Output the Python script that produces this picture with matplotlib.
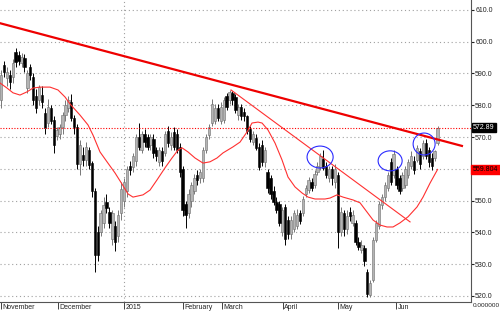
import matplotlib
matplotlib.use("Agg")
import matplotlib.pyplot as plt
import matplotlib.transforms as mtransforms
from matplotlib.patches import Ellipse
import numpy as np

plt.rcParams['font.family'] = ['Liberation Sans', 'DejaVu Sans']

# daily candles, Nov 2014 .. Jun 2015 (open, high, low, close)
opens = [581.6, 592.7, 588.5, 589.5, 588.9, 596.7, 595.8, 593.3, 594.9, 585.4,
         592.0, 588.9, 583.0, 581.6, 583.2, 577.5, 574.4, 579.0, 575.4, 570.3,
         571.0, 573.0, 576.9, 579.0, 581.0, 576.0, 573.0, 561.6, 564.4, 562.8,
         566.0, 561.8, 553.0, 540.0, 540.0, 543.0, 549.5, 546.4, 538.0, 542.0,
         539.0, 546.0, 550.0, 553.0, 561.0, 560.5, 562.5, 570.0, 566.0, 571.0,
         570.0, 567.5, 569.5, 566.0, 562.0, 565.5, 565.0, 572.0, 567.5, 571.5,
         571.0, 567.0, 560.0, 549.0, 546.0, 550.0, 553.0, 558.0, 557.0, 557.0,
         566.0, 570.6, 574.4, 575.0, 579.0, 575.0, 575.5, 583.0, 581.6, 584.0,
         582.5, 576.9, 579.5, 578.0, 576.5, 572.5, 568.5, 569.7, 567.0, 567.5,
         562.0, 559.0, 557.0, 553.0, 549.5, 549.0, 540.0, 548.0, 544.0, 539.5,
         541.0, 542.0, 546.0, 546.0, 552.0, 553.4, 556.0, 555.0, 559.0, 560.6,
         563.0, 561.0, 557.0, 560.0, 556.0, 558.0, 540.0, 546.0, 541.0, 546.5,
         543.0, 543.0, 537.0, 534.5, 535.0, 527.6, 520.3, 525.0, 537.6, 542.0,
         548.5, 551.0, 554.0, 562.0, 558.0, 560.0, 557.0, 554.0, 555.0, 558.0,
         561.0, 562.5, 562.8, 565.5, 564.0, 568.0, 566.0, 563.5, 563.5, 568.0]
highs = [591.0, 594.0, 592.0, 591.0, 594.5, 598.0, 597.0, 596.5, 596.0, 591.0,
         593.0, 590.0, 585.0, 586.5, 586.0, 579.0, 582.0, 580.0, 576.5, 573.0,
         574.0, 578.0, 581.5, 583.0, 583.5, 577.0, 574.0, 569.0, 567.0, 568.5,
         567.0, 562.5, 554.0, 542.0, 547.0, 551.0, 552.0, 548.0, 547.0, 543.5,
         547.0, 556.0, 557.0, 561.0, 562.5, 565.0, 571.0, 574.5, 572.0, 572.5,
         571.0, 571.0, 571.0, 567.0, 567.0, 567.0, 572.0, 573.5, 571.5, 573.0,
         572.5, 568.0, 561.0, 550.0, 553.5, 556.0, 558.5, 559.5, 560.0, 567.0,
         571.0, 574.0, 582.0, 580.5, 580.5, 581.0, 582.5, 584.0, 584.8, 584.5,
         583.5, 580.5, 580.5, 579.0, 577.0, 573.5, 572.0, 571.0, 568.0, 569.0,
         567.0, 560.0, 558.0, 554.5, 551.0, 550.0, 548.0, 549.0, 545.0, 545.0,
         547.0, 547.5, 547.0, 551.5, 555.0, 557.5, 557.0, 559.5, 562.0, 565.0,
         566.0, 562.0, 561.0, 561.0, 561.5, 559.0, 548.0, 547.0, 547.0, 548.0,
         547.0, 544.0, 538.5, 537.5, 536.0, 528.5, 525.0, 538.5, 544.0, 550.0,
         552.0, 556.0, 559.0, 563.5, 566.0, 561.0, 558.0, 559.0, 561.0, 563.0,
         565.5, 564.0, 567.5, 566.5, 569.0, 569.5, 567.0, 565.0, 566.0, 573.5]
lows = [579.0, 589.0, 586.0, 585.0, 587.0, 592.0, 592.5, 592.0, 590.5, 584.0,
        588.0, 580.0, 577.5, 580.0, 579.0, 571.0, 573.0, 574.0, 565.0, 569.0,
        569.5, 571.0, 575.0, 578.0, 575.0, 571.0, 560.0, 558.0, 561.0, 561.0,
        560.0, 551.0, 527.5, 531.0, 539.0, 541.5, 546.0, 541.5, 536.0, 534.0,
        537.0, 544.0, 548.0, 551.0, 558.0, 559.0, 561.0, 566.0, 565.0, 567.0,
        566.0, 566.0, 563.5, 562.5, 561.0, 561.0, 564.0, 567.0, 566.0, 566.0,
        565.0, 557.5, 545.0, 541.5, 544.5, 548.0, 552.0, 555.0, 555.5, 556.0,
        565.0, 569.5, 573.5, 574.0, 575.0, 574.0, 574.5, 578.5, 580.5, 580.0,
        577.5, 575.5, 575.5, 575.0, 571.0, 568.5, 567.5, 566.0, 559.5, 561.0,
        560.5, 552.5, 550.5, 548.5, 546.0, 542.0, 539.0, 536.0, 538.0, 538.0,
        540.0, 541.0, 542.5, 545.0, 551.0, 552.5, 553.0, 554.0, 558.0, 559.5,
        559.5, 557.0, 556.0, 555.0, 554.0, 535.0, 539.0, 539.0, 539.5, 543.5,
        542.0, 536.0, 534.5, 533.5, 529.5, 519.8, 519.8, 524.5, 537.0, 541.0,
        547.5, 550.0, 553.0, 555.0, 557.0, 553.5, 552.0, 553.0, 554.0, 557.0,
        560.0, 558.5, 562.0, 560.0, 563.0, 563.0, 560.5, 559.5, 562.5, 567.5]
closes = [589.5, 590.5, 590.5, 587.3, 593.3, 593.6, 594.0, 595.2, 592.0, 590.1,
          589.5, 581.6, 579.0, 585.7, 581.0, 572.8, 579.4, 575.0, 567.5, 572.2,
          573.0, 577.0, 580.0, 581.6, 576.0, 573.0, 561.6, 567.5, 562.8, 567.0,
          561.2, 553.0, 532.9, 533.0, 546.0, 548.6, 547.7, 543.0, 546.0, 537.0,
          545.5, 553.5, 556.0, 560.0, 559.5, 564.0, 570.0, 567.0, 571.0, 568.5,
          567.0, 570.0, 565.0, 564.0, 566.0, 562.5, 571.0, 568.0, 570.0, 567.0,
          566.0, 559.0, 547.0, 545.5, 552.0, 555.0, 557.0, 556.5, 559.0, 566.0,
          570.0, 573.0, 580.5, 579.0, 576.0, 579.5, 581.6, 579.5, 584.2, 581.5,
          578.5, 579.5, 576.5, 576.5, 572.0, 569.5, 571.0, 566.6, 560.6, 562.0,
          566.0, 554.0, 552.0, 549.5, 547.0, 543.0, 547.0, 538.0, 539.5, 544.0,
          546.0, 545.5, 543.5, 550.5, 554.0, 556.5, 554.0, 558.5, 561.0, 564.0,
          560.3, 558.0, 560.0, 557.0, 560.0, 540.0, 546.4, 541.0, 545.0, 545.0,
          545.5, 537.0, 535.5, 536.0, 531.0, 520.5, 524.0, 537.6, 543.0, 549.0,
          551.0, 555.0, 558.0, 556.0, 564.5, 555.0, 553.0, 558.0, 560.0, 562.0,
          564.0, 559.5, 566.6, 561.5, 568.0, 564.0, 562.0, 561.0, 565.5, 572.89]

# moving average (bar position, value)
ma_pos = [-0.34, 2.05, 4.1, 6.48, 8.87, 10.92, 13.31, 16.72, 19.45, 21.84,
          23.55, 26.96, 29.69, 31.4, 33.79, 36.18, 38.91, 41.3, 43.34, 45.05,
          48.46, 50.85, 53.24, 55.97, 58.36, 60.41, 61.77, 63.82, 66.21, 68.94,
          71.33, 73.72, 75.77, 79.18, 81.57, 83.96, 85.67, 87.71, 89.08, 91.13,
          93.52, 95.9, 97.95, 100.34, 102.73, 104.78, 107.17, 110.58, 112.29, 114.68,
          116.72, 120.14, 122.53, 124.91, 126.96, 129.35, 131.74, 133.79, 136.18, 138.91,
          141.98, 144.03, 146.42, 149.0]
ma_val = [587.0, 585.4, 583.9, 583.2, 584.2, 585.4, 585.7, 585.7, 584.8, 582.6,
          580.4, 576.9, 573.8, 570.6, 565.3, 562.2, 558.7, 555.2, 552.1, 551.1,
          551.8, 553.3, 556.5, 560.3, 563.4, 565.9, 566.6, 565.3, 563.4, 561.8,
          562.2, 563.4, 565.0, 566.9, 568.4, 571.6, 574.4, 574.7, 574.4, 572.2,
          568.1, 562.8, 557.4, 554.3, 552.4, 551.1, 550.5, 550.5, 550.8, 551.8,
          551.1, 550.2, 549.3, 546.4, 543.9, 542.3, 541.7, 541.7, 543.0, 544.9,
          548.0, 551.1, 555.5, 559.804]

month_pos = [0, 19.5, 42, 62.1, 75.4, 96.2, 115, 134.8]
month_lab = ["November", "December", "2015", "February", "March", "April", "May", "Jun"]

last_close = 572.89
last_ma = 559.804

# trend lines (bar position, price)
trend_x = [-0.34, 157.3]
trend_y = [605.8, 567.2]
down_x = [78.5, 139.6]
down_y = [584.8, 543.3]

# circled spots (bar, price, width in bars, height in price)
circles = [(108.9, 563.7, 8.9, 6.9), (132.8, 562.5, 8.2, 6.3), (144.4, 567.8, 7.5, 6.9)]

fig = plt.figure(figsize=(5, 3.12), dpi=100)
ax = fig.add_axes([0, 1 - 302 / 312, 471 / 500, 302 / 312])

grid_style = dict(color='#a0a0a0', lw=0.8, ls=(0, (1, 2.5)), zorder=0)
for v in range(520, 611, 10):
    ax.axhline(v, **grid_style)
ax.axvline(42, **grid_style)

idx = np.arange(len(closes))
o = np.array(opens)
c = np.array(closes)
up = c >= o
body_lo = np.minimum(o, c)
body_h = np.maximum(np.abs(c - o), 0.4)

ax.vlines(idx[up], np.array(lows)[up], np.array(highs)[up], color='#777777', lw=0.7, zorder=2)
ax.vlines(idx[~up], np.array(lows)[~up], np.array(highs)[~up], color='black', lw=0.7, zorder=2)
ax.bar(idx[up], body_h[up], bottom=body_lo[up], width=0.8, color='#b4b4b4',
       edgecolor='#6e6e6e', linewidth=0.4, zorder=3)
ax.bar(idx[~up], body_h[~up], bottom=body_lo[~up], width=0.8, color='black',
       edgecolor='black', linewidth=0.4, zorder=3)

ax.plot(ma_pos, ma_val, color='#ff3030', lw=0.8, zorder=4)
ax.plot(down_x, down_y, color='#ff3030', lw=0.8, zorder=4)
ax.plot(trend_x, trend_y, color='#ee0000', lw=1.6, zorder=5)
ax.axhline(last_close, color='#ff0000', lw=0.8, ls=(0, (1, 1.5)), zorder=4)

for cx, cy, w, h in circles:
    ax.add_patch(Ellipse((cx, cy), w, h, fill=False, edgecolor='#2a2aff', lw=0.8, zorder=6))

ax.set_xlim(-0.34, 160.4)
ax.set_ylim(518.1, 613.1)

for s in ['left', 'top']:
    ax.spines[s].set_visible(False)
for s in ['right', 'bottom']:
    ax.spines[s].set_color('#555555')
    ax.spines[s].set_linewidth(0.8)

# the 560 label sits under the red MA value box
ax.yaxis.tick_right()
ax.set_yticks(range(520, 611, 10))
ax.set_yticklabels(["" if v == 560 else f"{v:.1f}" for v in range(520, 611, 10)])
ax.tick_params(axis='y', labelsize=5, length=2, pad=1, colors='#222222')

ax.set_xticks(month_pos)
ax.set_xticklabels(month_lab)
ax.tick_params(axis='x', labelsize=5, length=5, pad=-3.5, colors='#222222', width=0.6)
offset = mtransforms.ScaledTranslation(1.5 / 100, 0, fig.dpi_scale_trans)
for lab in ax.get_xticklabels():
    lab.set_ha('left')
    lab.set_transform(lab.get_transform() + offset)

trans = mtransforms.blended_transform_factory(ax.transAxes, ax.transData)
ax.text(1.004, last_close, f"{last_close:.2f}", transform=trans, fontsize=5, color='white',
        va='center', ha='left', bbox=dict(boxstyle='square,pad=0.15', fc='black', ec='black'))
ax.text(1.004, last_ma, f"{last_ma:.3f}", transform=trans, fontsize=5, color='black',
        va='center', ha='left', bbox=dict(boxstyle='square,pad=0.2', fc='#ff0000', ec='#ff0000'))
ax.text(1.003, -0.012, "0.000000", transform=ax.transAxes, fontsize=4.6, color='#222222',
        va='center', ha='left')

fig.savefig("out.png", dpi=100)
